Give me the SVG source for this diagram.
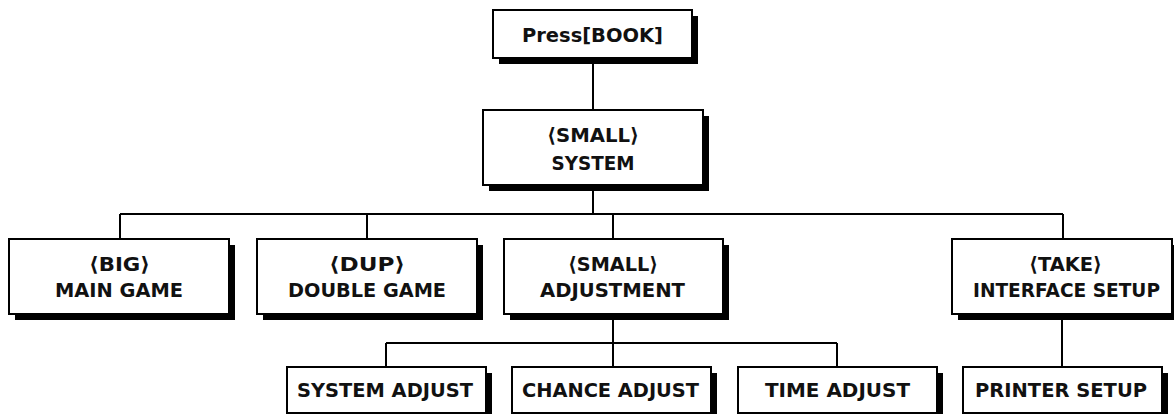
<svg xmlns="http://www.w3.org/2000/svg" width="1174" height="414" viewBox="0 0 1174 414">
<style>
.sh{fill:#000}
.bx{fill:#fff;stroke:#000;stroke-width:2}
.t{font-family:"DejaVu Sans","Liberation Sans",sans-serif;font-weight:bold;font-size:20px;fill:#111;text-anchor:middle}
.c{fill:none;stroke:#000;stroke-width:2}
</style>
<rect width="1174" height="414" fill="#fff"/>
<g id="connectors">
<path class="c" d="M593 58V110M593 185V214M120 214H1063M120 214V239M367 214V239M613 214V239M1063 214V239M613 314V343M386 343H837M386 343V367M613 343V367M837 343V367M1062 314V367"/>
</g>
<g id="press">
<rect class="sh" x="499" y="16" width="199" height="48"/>
<rect class="bx" x="493" y="10" width="199" height="48"/>
<text class="t" x="592.5" y="42" textLength="141" lengthAdjust="spacingAndGlyphs">Press[BOOK]</text>
</g>
<g id="system">
<rect class="sh" x="489" y="116" width="220" height="75"/>
<rect class="bx" x="483" y="110" width="220" height="75"/>
<text class="t" x="593" y="142" textLength="92" lengthAdjust="spacingAndGlyphs">⟨SMALL⟩</text>
<text class="t" x="593" y="170" textLength="83" lengthAdjust="spacingAndGlyphs">SYSTEM</text>
</g>
<g id="main">
<rect class="sh" x="15" y="245" width="220" height="75"/>
<rect class="bx" x="9" y="239" width="220" height="75"/>
<text class="t" x="119.5" y="271" textLength="61" lengthAdjust="spacingAndGlyphs">⟨BIG⟩</text>
<text class="t" x="119" y="297" textLength="128" lengthAdjust="spacingAndGlyphs">MAIN GAME</text>
</g>
<g id="double">
<rect class="sh" x="263" y="245" width="220" height="75"/>
<rect class="bx" x="257" y="239" width="220" height="75"/>
<text class="t" x="367" y="271" textLength="76" lengthAdjust="spacingAndGlyphs">⟨DUP⟩</text>
<text class="t" x="367" y="297" textLength="158" lengthAdjust="spacingAndGlyphs">DOUBLE GAME</text>
</g>
<g id="adjustment">
<rect class="sh" x="510" y="245" width="219" height="75"/>
<rect class="bx" x="504" y="239" width="219" height="75"/>
<text class="t" x="613" y="271" textLength="90" lengthAdjust="spacingAndGlyphs">⟨SMALL⟩</text>
<text class="t" x="612.5" y="297" textLength="145" lengthAdjust="spacingAndGlyphs">ADJUSTMENT</text>
</g>
<g id="interface">
<rect class="sh" x="958" y="245" width="220" height="75"/>
<rect class="bx" x="952" y="239" width="220" height="75"/>
<text class="t" x="1065.5" y="271" textLength="73" lengthAdjust="spacingAndGlyphs">⟨TAKE⟩</text>
<text class="t" x="1066.5" y="297" textLength="187" lengthAdjust="spacingAndGlyphs">INTERFACE SETUP</text>
</g>
<g id="sysadj">
<rect class="sh" x="293" y="373" width="199" height="46"/>
<rect class="bx" x="287" y="367" width="199" height="46"/>
<text class="t" x="385" y="397" textLength="176" lengthAdjust="spacingAndGlyphs">SYSTEM ADJUST</text>
</g>
<g id="chance">
<rect class="sh" x="518" y="373" width="199" height="46"/>
<rect class="bx" x="512" y="367" width="199" height="46"/>
<text class="t" x="610.5" y="397" textLength="177" lengthAdjust="spacingAndGlyphs">CHANCE ADJUST</text>
</g>
<g id="time">
<rect class="sh" x="744" y="373" width="199" height="46"/>
<rect class="bx" x="738" y="367" width="199" height="46"/>
<text class="t" x="837.5" y="397" textLength="145" lengthAdjust="spacingAndGlyphs">TIME ADJUST</text>
</g>
<g id="printer">
<rect class="sh" x="969" y="373" width="199" height="46"/>
<rect class="bx" x="963" y="367" width="199" height="46"/>
<text class="t" x="1061" y="397" textLength="172" lengthAdjust="spacingAndGlyphs">PRINTER SETUP</text>
</g>
</svg>
